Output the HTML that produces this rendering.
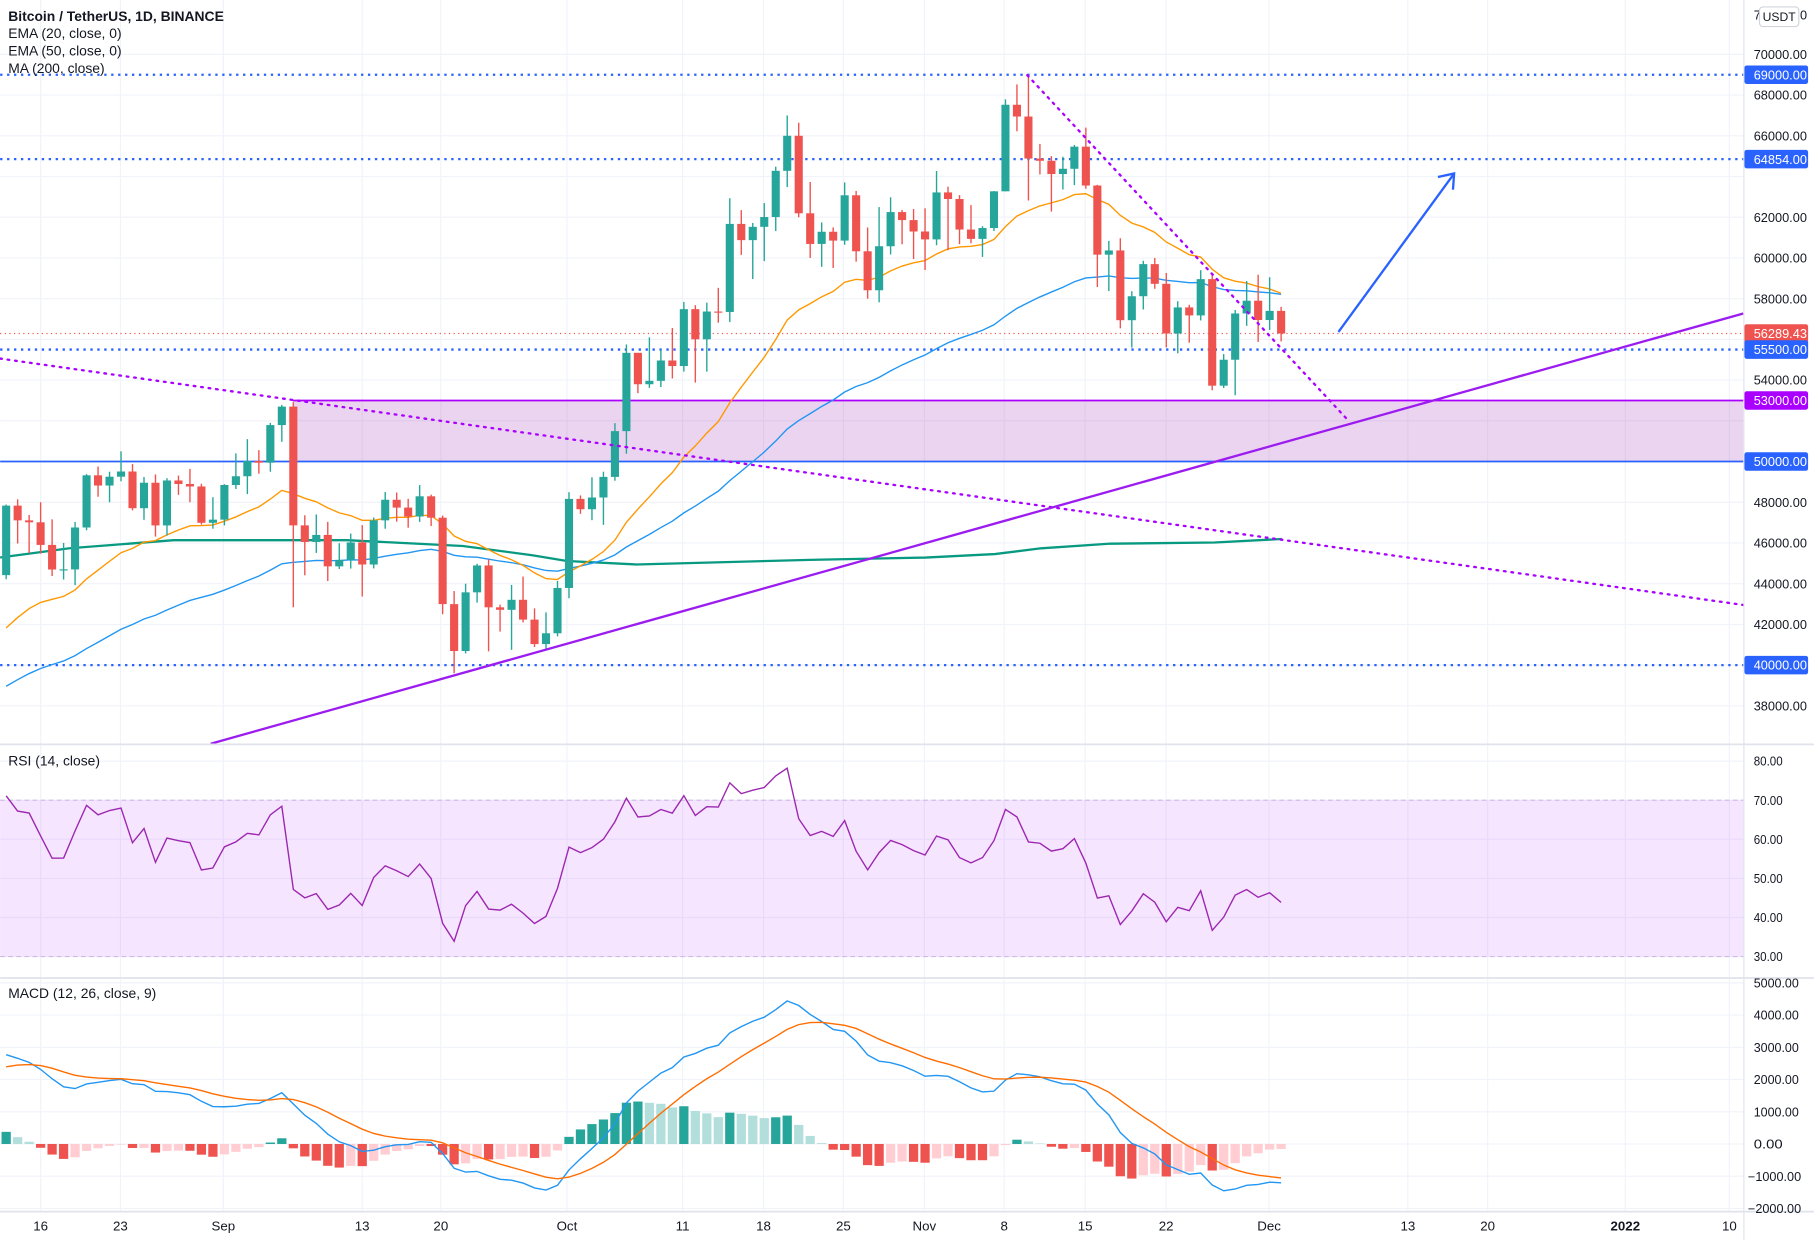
<!DOCTYPE html>
<html><head><meta charset="utf-8">
<style>
html,body{margin:0;padding:0;background:#fff;overflow:hidden}
svg{display:block}
text{font-family:"Liberation Sans",sans-serif}
</style></head>
<body>
<svg id="s" width="1814" height="1240" viewBox="0 0 1568 1072" xmlns="http://www.w3.org/2000/svg"></svg>
<script>
const D=[
[44420,47886,44217,47834],[47834,48144,45971,47110],[47110,47372,45500,47015],[47015,48000,45474,45904],[45904,47160,44376,44696],[44696,46000,44203,44705],[44700,47033,43927,46760],[46760,49382,46622,49323],[49323,49757,48270,48821],[48821,49500,48000,49255],[49255,50500,49029,49510],[49510,49875,47600,47707],[47707,49240,47137,48958],[48958,49365,46315,46861],[46861,49182,46361,49070],[49070,49309,48364,48896],[48896,49636,48000,48775],[48775,48910,46904,46991],[46991,48244,46700,47145],
[47145,48888,46862,48847],[48847,50400,48650,49277],[49277,51100,48400,50026],[50026,50558,49400,49942],[49942,51900,49500,51790],[51790,52780,50969,52698],[52698,52920,42843,46864],[46864,47360,44412,46048],[46048,47400,45513,46395],[46395,47036,44132,44851],[44851,45987,44722,45172],[45172,46460,44742,46026],[46026,46876,43370,44941],[44941,47250,44750,47111],[47111,48500,46700,48122],[48122,48477,47046,47737],[47737,48170,46750,47300],[47300,48843,47035,48292],[48292,48372,46830,47241],[47241,47347,42500,42996],[42996,43639,39600,40693],[40693,44000,40574,43575],[43575,44978,43069,44895],[44895,45200,40675,42839],[42839,42971,41646,42717],[42717,43937,40750,43208],[43208,44350,42098,42235],[42235,42787,40888,41034],[41034,42590,40753,41564],[41564,44132,41410,43790],
[43790,48495,43283,48165],[48165,48336,47430,47657],[47657,49228,47120,48233],[48233,49500,46891,49245],[49245,51886,49057,51493],[51493,55750,50382,55339],[55339,55338,53357,53797],[53797,56100,53617,53963],[53963,55489,53661,54963],[54963,56561,54080,54690],[54690,57839,54416,57485],[57485,57680,53879,56005],[56005,57804,54415,57368],[57368,58532,56818,57347],[57347,62933,56850,61672],[61672,62350,60150,60875],[60875,61720,58963,61528],[61528,62695,59844,62010],[62010,64486,61322,64280],[64280,67000,63481,66001],[66001,66639,62000,62193],[62193,63732,60000,60688],[60688,61747,59562,61286],[61286,61500,59510,60852],[60852,63710,60650,63078],[63078,63293,59817,60328],[60328,61496,58000,58413],[58413,62499,57820,60575],[60575,62980,60174,62253],[62253,62359,60673,61859],[61859,62405,59945,61299],
[61299,62437,59405,60911],[60911,64270,60624,63219],[63219,63500,60382,62896],[62896,63086,60677,61395],[61395,62595,60721,60937],[60937,61560,60050,61470],[61470,63286,61322,63273],[63273,67789,63273,67525],[67525,68524,66222,66947],[66947,69000,62822,64882],[64882,65600,64100,64774],[64774,65000,62278,64122],[64122,64971,63360,64380],[64380,65550,63576,65466],[65466,66401,63400,63557],[63557,63590,58574,60161],[60161,60836,58373,60368],[60368,60967,56542,56942],[56942,58366,55600,58119],[58119,59859,57469,59697],[59697,60000,58486,58730],[58730,59266,55610,56289],[56289,57875,55317,57570],[57570,57700,55837,57177],[57177,59398,56930,58960],[58960,59150,53500,53726],[53726,55280,53610,55000],[55000,57445,53256,57274],[57274,58865,56666,57900],[57900,59176,55875,56950],[56950,59053,56458,57400],[57400,57600,55900,56289]];
const S=document.getElementById('s');let h='';
const X=i=>35+(i-3)*9.93;
const Y=p=>47+(70000-p)*0.0176;
const RY=r=>658+(80-r)*3.38;
const MY=m=>989-m*0.02786;
const dts=[[35,'16'],[104,'23'],[193,'Sep'],[313,'13'],[381,'20'],[490,'Oct'],[590,'11'],[660,'18'],[729,'25'],[799,'Nov'],[868,'8'],[938,'15'],[1008,'22'],[1097,'Dec'],[1217,'13'],[1286,'20'],[1405,'2022'],[1495,'10']];
for(const [x] of dts)h+=`<line x1="${x}" y1="0" x2="${x}" y2="1047" stroke="#f0f3fa"/>`;
for(let p=38000;p<=70000;p+=2000)h+=`<line x1="0" y1="${Y(p)}" x2="1507" y2="${Y(p)}" stroke="#f0f3fa"/>`;
for(let r=30;r<=80;r+=10)h+=`<line x1="0" y1="${RY(r)}" x2="1507" y2="${RY(r)}" stroke="#f0f3fa"/>`;
for(let m=-2000;m<=5000;m+=1000)h+=`<line x1="0" y1="${MY(m)}" x2="1507" y2="${MY(m)}" stroke="#f0f3fa"/>`;
h+=`<rect x="253" y="${Y(53000)}" width="1254" height="${Y(50000)-Y(53000)}" fill="rgba(156,39,176,0.2)"/>`;
h+=`<line x1="253" y1="${Y(53000)}" x2="1507" y2="${Y(53000)}" stroke="#aa00ff" stroke-width="1.5"/>`;
h+=`<line x1="0" y1="399" x2="1507" y2="399" stroke="#2962ff" stroke-width="1.5"/>`;
for(const p of [69000,64854,55500,40000])h+=`<line x1="0" y1="${Y(p)}" x2="1507" y2="${Y(p)}" stroke="#2962ff" stroke-width="2" stroke-dasharray="2,4"/>`;
h+=`<line x1="0" y1="${Y(56289)}" x2="1507" y2="${Y(56289)}" stroke="#ef5350" stroke-width="1" stroke-dasharray="1,3"/>`;
h+=`<polyline fill="none" stroke="#089981" stroke-width="2" points="0,482 60,474 150,467 300,467 400,472 460,480 490,485 550,488 700,484 800,482 860,479 900,474 960,470 1050,469 1108,466"/>`;
function ema(n,seed){let k=2/(n+1),e=seed,o=[];for(const d of D){e=d[3]*k+e*(1-k);o.push(e);}return o;}
const e20=ema(20,41200),e50=ema(50,38600);
const pl=(a,f,c,w)=>`<polyline fill="none" stroke="${c}" stroke-width="${w}" points="${a.map((v,i)=>X(i).toFixed(1)+','+f(v).toFixed(1)).join(' ')}"/>`;
h+=pl(e50,Y,'#2196f3',1.2);h+=pl(e20,Y,'#ff9800',1.2);
D.forEach((d,i)=>{const [o,hi,l,c]=d,x=X(i),up=c>=o,col=up?'#26a69a':'#ef5350';
h+=`<line x1="${x}" y1="${Y(hi)}" x2="${x}" y2="${Y(l)}" stroke="${col}" stroke-width="1.2"/>`;
const t=Y(Math.max(o,c)),b=Y(Math.min(o,c));h+=`<rect x="${x-3.5}" y="${t}" width="7" height="${Math.max(1,b-t)}" fill="${col}"/>`;});
h+=`<line x1="0" y1="310" x2="1507" y2="523" stroke="#aa00ff" stroke-width="2" stroke-dasharray="1.5,5" stroke-linecap="round"/>`;
h+=`<line x1="888" y1="65" x2="1165" y2="363" stroke="#aa00ff" stroke-width="2" stroke-dasharray="1.5,5" stroke-linecap="round"/>`;
h+=`<line x1="182" y1="643" x2="1507" y2="271" stroke="#9c1cf0" stroke-width="2"/>`;
h+=`<line x1="1157" y1="287" x2="1257" y2="150" stroke="#2962ff" stroke-width="2"/><polyline fill="none" stroke="#2962ff" stroke-width="2" points="1243,153 1257,150 1256,164"/>`;
h+=`<line x1="0" y1="643.5" x2="1568" y2="643.5" stroke="#e0e3eb" stroke-width="1.5"/><line x1="0" y1="845.5" x2="1568" y2="845.5" stroke="#e0e3eb" stroke-width="1.5"/><line x1="0" y1="1047.5" x2="1568" y2="1047.5" stroke="#e0e3eb" stroke-width="1.5"/><line x1="1507.5" y1="0" x2="1507.5" y2="1072" stroke="#e0e3eb"/>`;
h+=`<rect x="0" y="${RY(70)}" width="1507" height="${RY(30)-RY(70)}" fill="rgba(170,0,255,0.1)"/>`;
h+=`<line x1="0" y1="${RY(70)}" x2="1507" y2="${RY(70)}" stroke="#d0b8e8" stroke-dasharray="4,3"/><line x1="0" y1="${RY(30)}" x2="1507" y2="${RY(30)}" stroke="#d0b8e8" stroke-dasharray="4,3"/>`;
let ag=700,al=300,rs=[];D.forEach((d,i)=>{const ch=i?d[3]-D[i-1][3]:500;ag=(ag*13+Math.max(ch,0))/14;al=(al*13+Math.max(-ch,0))/14;rs.push(100-100/(1+ag/al));});
h+=pl(rs,RY,'#9c27b0',1.2);
let a12=45600,a26=42800,sg=2300,mc=[],sl=[],hs=[];D.forEach(d=>{a12=d[3]*2/13+a12*11/13;a26=d[3]*2/27+a26*25/27;const m=a12-a26;sg=m*0.2+sg*0.8;mc.push(m);sl.push(sg);hs.push(m-sg);});
hs.forEach((v,i)=>{const p=i?hs[i-1]:v;const col=v>=0?(v>=p?'#26a69a':'#b2dfdb'):(v<p?'#ef5350':'#ffcdd2');const y0=MY(0),y1=MY(v);h+=`<rect x="${X(i)-4}" y="${Math.min(y0,y1)}" width="8" height="${Math.abs(y1-y0)}" fill="${col}"/>`;});
h+=pl(mc,MY,'#2196f3',1.2);h+=pl(sl,MY,'#ff6d00',1.2);
const tx=(x,y,t,s,c,a,w,L)=>`<text x="${x}" y="${y}" font-size="${s}" fill="${c||'#131722'}" text-anchor="${a||'start'}" font-weight="${w||'normal'}"${L?` textLength="${L}" lengthAdjust="spacingAndGlyphs"`:''}>${t}</text>`;
for(let p=38000;p<=70000;p+=2000){if([64000,56000,52000,50000,40000].includes(p))continue;h+=tx(1516,Y(p)+4,p+'.00',11,'#131722','start','normal',46);}
for(let r=30;r<=80;r+=10)h+=tx(1516,RY(r)+4,r+'.00',11,'#131722','start','normal',25);
for(let m=-2000;m<=5000;m+=1000)h+=tx(m<0?1511:1516,MY(m)+4,(m<0?'−':'')+Math.abs(m)+'.00',11,'#131722','start','normal',m<0?46:(m==0?25:39));
const lab=(p,t,c)=>{const y=Y(p);h+=`<rect x="1508" y="${y-8}" width="55" height="16" rx="2" fill="${c}"/>`+tx(1516,y+4,t,11,'#fff','start','normal',46);};
lab(69000,'69000.00','#2962ff');lab(64854,'64854.00','#2962ff');lab(50000,'50000.00','#2962ff');lab(40000,'40000.00','#2962ff');lab(53000,'53000.00','#aa00ff');
h+=`<rect x="1508" y="${Y(56289)-8}" width="55" height="28" rx="2" fill="#ef5350"/>`+tx(1516,Y(56289)+4,'56289.43',11,'#fff','start','normal',46)+tx(1516,Y(56289)+16,'10:04:32',11,'#fde0e0','start','normal',46);
lab(55500,'55500.00','#2962ff');
h+=tx(1516,17,'7',11)+`<rect x="1521" y="6" width="34" height="17" rx="3" fill="#fff" stroke="#d1d4dc"/>`+tx(1538,18,'USDT',10.5,'#131722','middle')+tx(1556,17,'0',11);
for(const [x,t] of dts)h+=tx(x,1064,t,11.5,'#131722','middle',t=='2022'?'bold':'normal');
h+=tx(7,18,'Bitcoin / TetherUS, 1D, BINANCE',12,'#131722','start','bold')+tx(7,33,'EMA (20, close, 0)',12)+tx(7,48,'EMA (50, close, 0)',12)+tx(7,63,'MA (200, close)',12);
h+=tx(7,662,'RSI (14, close)',12)+tx(7,863,'MACD (12, 26, close, 9)',12);
S.innerHTML=h;
</script>
</body></html>
